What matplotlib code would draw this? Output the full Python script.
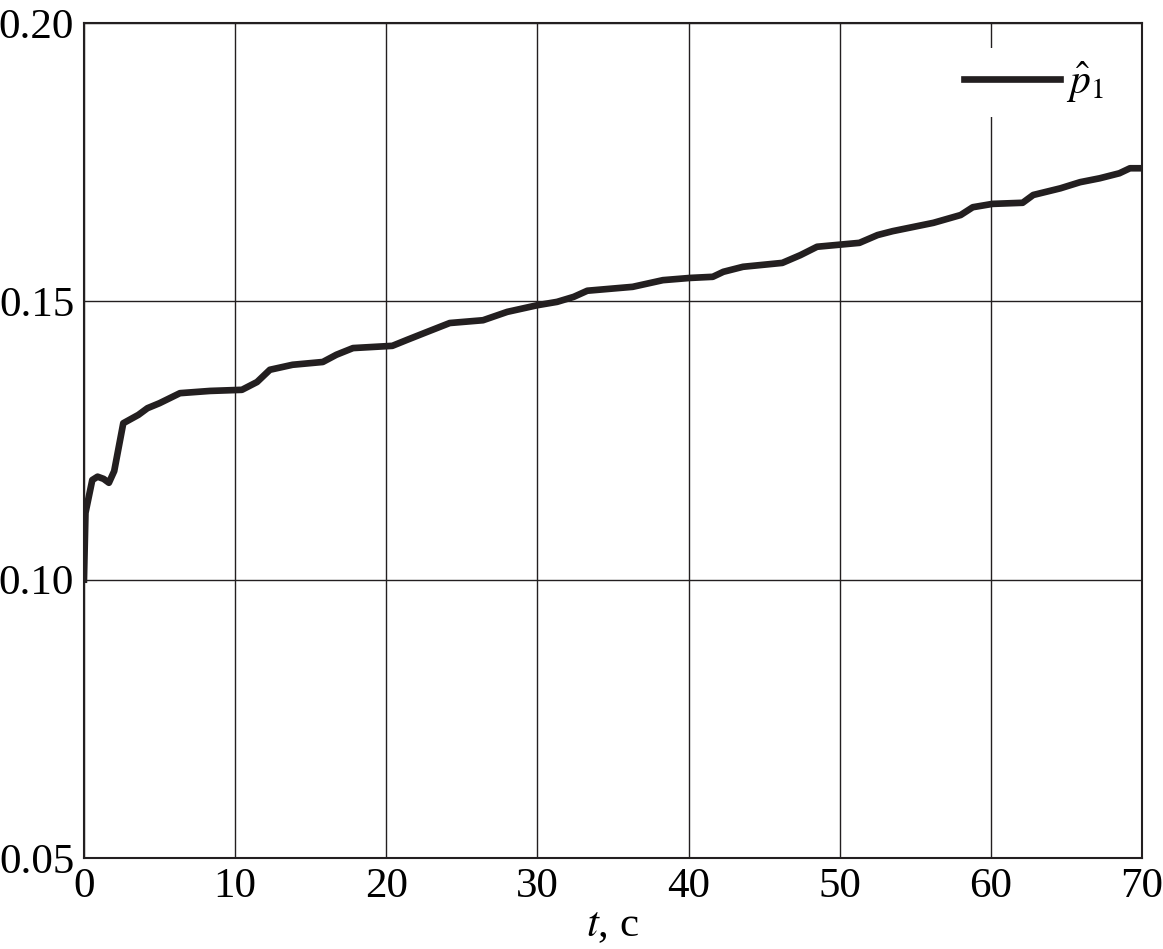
import numpy as np
import matplotlib.pyplot as plt

# values
t = [0.0, 0.1, 0.55, 0.9, 1.3, 1.65, 2.0, 2.6, 3.0, 3.6, 4.2, 5.0,
     6.35, 8.34, 10.45, 11.45, 12.3, 13.8, 15.8, 16.7, 17.8, 20.4, 21.4,
     22.7, 24.2, 26.4, 28.0, 30.0, 31.3, 32.4, 33.3, 36.3, 38.3, 40.1,
     41.6, 42.3, 43.6, 46.2, 47.4, 48.5, 51.3, 52.5, 53.5, 56.2, 58.0,
     58.8, 60.1, 62.1, 62.8, 64.6, 65.9, 67.2, 68.5, 69.2, 70.0]
p1 = [0.100, 0.112, 0.1179, 0.1185, 0.1181, 0.1174, 0.1195, 0.1281,
      0.1287, 0.1296, 0.1308, 0.1317, 0.1335, 0.1339, 0.1341, 0.1355,
      0.1377, 0.1386, 0.1391, 0.1404, 0.1416, 0.1420, 0.1431, 0.1445,
      0.1461, 0.1466, 0.1481, 0.1493, 0.1499, 0.1508, 0.1519, 0.1526,
      0.1538, 0.1542, 0.1544, 0.1553, 0.1562, 0.1569, 0.1583, 0.1598,
      0.1605, 0.1619, 0.1626, 0.1641, 0.1655, 0.1669, 0.1675, 0.1677,
      0.1691, 0.1703, 0.1714, 0.1721, 0.1730, 0.1739, 0.1739]
xticks = [0, 10, 20, 30, 40, 50, 60, 70]
yticks = [0.05, 0.10, 0.15, 0.20]

plt.rcParams['font.family'] = ['Liberation Serif', 'DejaVu Serif']
plt.rcParams['mathtext.fontset'] = 'stix'

fig = plt.figure(figsize=(11.63, 9.49), dpi=100)
ax = fig.add_axes([0.0722, 0.0959, 0.9098, 0.8799])

ax.plot(t, p1, color='#231f20', lw=4.8, solid_joinstyle='round',
        label=r'$\hat{p}_1$')

ax.set_xlim(0, 70)
ax.set_ylim(0.05, 0.20)
ax.set_xticks(xticks)
ax.set_yticks(yticks)
ax.set_yticklabels(['%.2f' % v for v in yticks])
ax.grid(True, color='#231f20', lw=1.0)
ax.tick_params(length=0, labelsize=31, pad=7)
for s in ax.spines.values():
    s.set_color('#231f20')
    s.set_linewidth(1.5)

ax.set_xlabel(r'$t$, с', fontsize=31, labelpad=0)

leg = ax.legend(loc='upper right', fontsize=30, handlelength=2.3,
                handletextpad=0.15, fancybox=False, framealpha=1,
                borderaxespad=0.6, borderpad=0.3)
leg.get_frame().set_edgecolor('none')

fig.savefig('out.png')
